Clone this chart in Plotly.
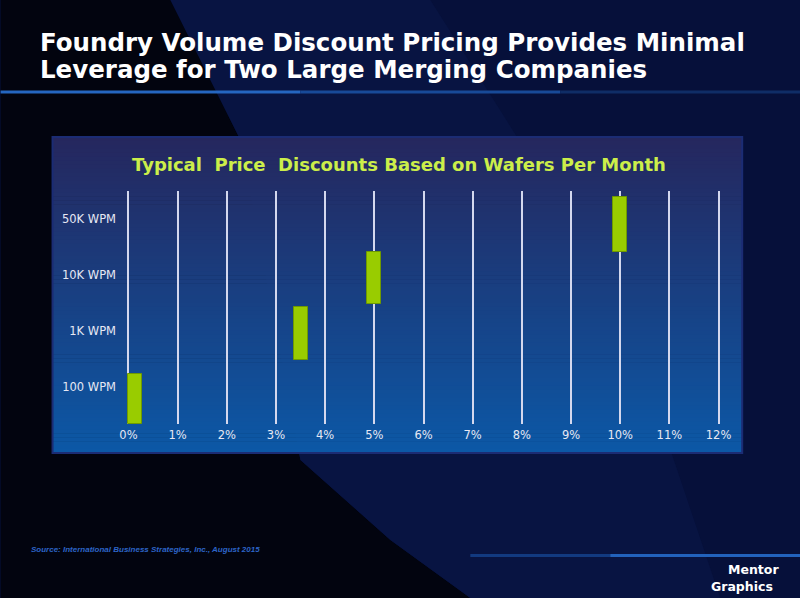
import plotly.graph_objects as go

# ---------------- data ----------------
discount_pct = [0, 3.5, 5, 10]                     # x position of each bar (%)
volume_low = [0.34, 1.49, 2.48, 3.405]             # bottom of each bar (tier scale)
volume_high = [1.23, 2.42, 3.405, 4.39]            # top of each bar (tier scale)
tier_positions = [1, 2, 3, 4]
tier_labels = ["100 WPM", "1K WPM", "10K WPM", "50K WPM"]
x_ticks = list(range(0, 13))
x_tick_labels = [f"{v}%" for v in x_ticks]

# ---------------- layout geometry ----------------
W, H = 800, 598
L, R, T, B = 125.5, 79.2, 191, 174
PW = W - L - R
PH = H - T - B


def X(px):
    return (px - L) / PW


def Y(py):
    return (H - B - py) / PH


bar_width = 0.285
offsets = [0 if v == 0 else -bar_width / 2 for v in discount_pct]

fig = go.Figure()
fig.add_trace(go.Bar(
    x=discount_pct,
    y=[h - l for h, l in zip(volume_high, volume_low)],
    base=volume_low,
    width=[bar_width] * len(discount_pct),
    offset=offsets,
    marker=dict(color="#99cc00", line=dict(color="#6f9a00", width=1)),
    hoverinfo="skip",
))

shapes = []
# background regions
shapes.append(dict(type="path", xref="paper", yref="paper", layer="below",
                   path=f"M{X(0)},{Y(0)} L{X(170)},{Y(0)} L{X(240)},{Y(140)} L{X(300)},{Y(460)} "
                        f"L{X(390)},{Y(540)} L{X(470)},{Y(598)} L{X(0)},{Y(598)} Z",
                   fillcolor="#02040f", line=dict(width=0)))
shapes.append(dict(type="path", xref="paper", yref="paper", layer="below",
                   path=f"M{X(170)},{Y(0)} L{X(430)},{Y(0)} L{X(620)},{Y(300)} L{X(720)},{Y(598)} "
                        f"L{X(470)},{Y(598)} L{X(390)},{Y(540)} L{X(300)},{Y(460)} L{X(240)},{Y(140)} Z",
                   fillcolor="#081442", line=dict(width=0)))

# title rule lines
for x0, x1, col in [(0, 300, "#2566c0"), (300, 560, "#184a98"), (560, 800, "#0f2d66")]:
    shapes.append(dict(type="line", xref="paper", yref="paper", layer="below",
                       x0=X(x0), x1=X(x1), y0=Y(92), y1=Y(92), line=dict(color=col, width=3)))
for x0, x1, col in [(470, 610, "#123a80"), (610, 800, "#2262bc")]:
    shapes.append(dict(type="line", xref="paper", yref="paper", layer="below",
                       x0=X(x0), x1=X(x1), y0=Y(555.5), y1=Y(555.5), line=dict(color=col, width=3)))

# panel with vertical gradient
p_x0, p_x1, p_y0, p_y1 = 52, 742, 137, 453
top_c = (37, 39, 94)
bot_c = (12, 88, 166)
n = 80
for i in range(n):
    t = i / (n - 1)
    c = tuple(round(a + (b - a) * t) for a, b in zip(top_c, bot_c))
    ya = p_y0 + (p_y1 - p_y0) * i / n
    yb = p_y0 + (p_y1 - p_y0) * (i + 1) / n + 0.6
    shapes.append(dict(type="rect", xref="paper", yref="paper", layer="below",
                       x0=X(p_x0), x1=X(p_x1), y0=Y(yb), y1=Y(ya),
                       fillcolor=f"rgb{c}", line=dict(width=0)))
shapes.append(dict(type="rect", xref="paper", yref="paper", layer="below",
                   x0=X(p_x0), x1=X(p_x1), y0=Y(p_y1), y1=Y(p_y0),
                   fillcolor="rgba(0,0,0,0)", line=dict(color="#1b2c74", width=2)))

title_font = dict(family="DejaVu Sans", size=24.5, color="white", weight="bold")
annotations = [
    dict(text="Foundry Volume Discount Pricing Provides Minimal",
         xref="paper", yref="paper", x=X(37), y=Y(42), xanchor="left", yanchor="middle",
         showarrow=False, font=title_font),
    dict(text="Leverage for Two Large Merging Companies",
         xref="paper", yref="paper", x=X(37), y=Y(70), xanchor="left", yanchor="middle",
         showarrow=False, font=title_font),
    dict(text="Typical\u00a0 Price\u00a0 Discounts Based on Wafers Per Month",
         xref="paper", yref="paper", x=X(399), y=Y(164), xanchor="center", yanchor="middle",
         showarrow=False,
         font=dict(family="DejaVu Sans", size=18, color="#ccee4a", weight="bold")),
    dict(text="Source: International Business Strategies, Inc., August 2015",
         xref="paper", yref="paper", x=X(28), y=Y(549), xanchor="left", yanchor="middle",
         showarrow=False,
         font=dict(family="Liberation Sans", size=8, color="#2d64c8", weight="bold", style="italic")),
    dict(text="Mentor", xref="paper", yref="paper", x=X(753), y=Y(569), xanchor="center",
         yanchor="middle", showarrow=False,
         font=dict(family="DejaVu Sans", size=12.5, color="white", weight="bold")),
    dict(text="Graphics", xref="paper", yref="paper", x=X(742), y=Y(586), xanchor="center",
         yanchor="middle", showarrow=False,
         font=dict(family="DejaVu Sans", size=12.5, color="white", weight="bold")),
]

fig.update_layout(
    width=W, height=H,
    margin=dict(l=L, r=R, t=T, b=B, pad=0),
    paper_bgcolor="#06103a",
    plot_bgcolor="rgba(0,0,0,0)",
    showlegend=False,
    shapes=shapes,
    annotations=annotations,
    bargap=0,
    xaxis=dict(range=[-0.05, 12.05], tickvals=x_ticks, ticktext=x_tick_labels,
               showgrid=True, gridcolor="#d4d8ee", gridwidth=1.5, zeroline=False,
               showline=False, ticks="", ticklabelstandoff=2,
               tickfont=dict(family="DejaVu Sans", size=11.5, color="#e6e8f4"),
               fixedrange=True),
    yaxis=dict(range=[0.339, 4.5], tickvals=tier_positions, ticktext=tier_labels,
               showgrid=False, zeroline=False, showline=False, ticks="",
               ticklabelstandoff=9,
               tickfont=dict(family="DejaVu Sans", size=11.5, color="#e6e8f4"),
               fixedrange=True),
)

fig.write_html("out.html", config={"displayModeBar": False},
               post_script="document.body.style.margin='0';document.body.style.background='#06103a';")
